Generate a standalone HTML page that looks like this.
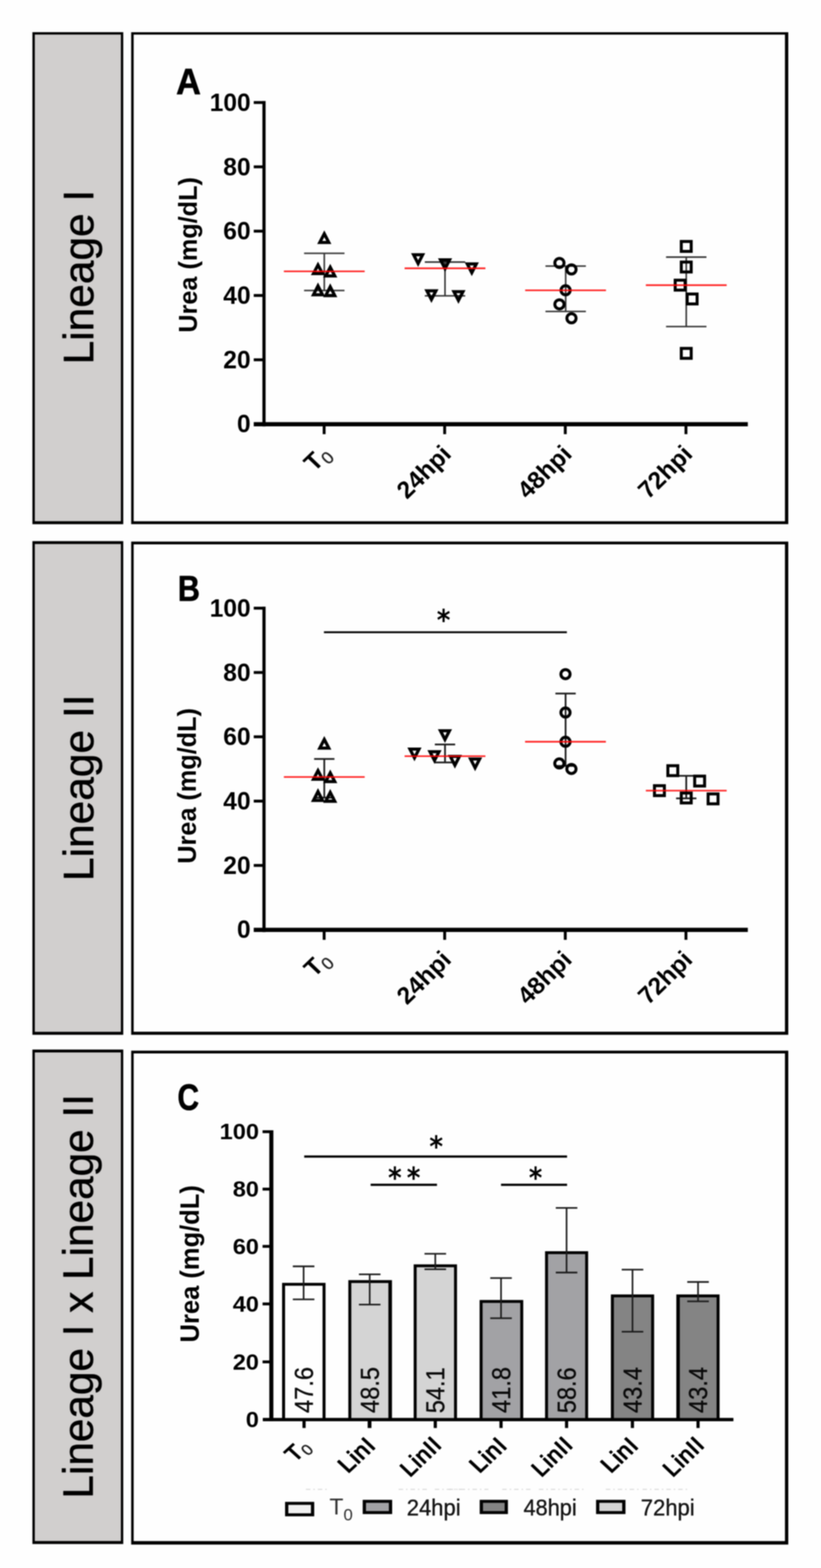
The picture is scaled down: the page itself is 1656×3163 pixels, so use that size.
<!DOCTYPE html>
<html lang="en">
<head>
<meta charset="utf-8">
<title>Urea (mg/dL) - Lineage I, Lineage II, Lineage I x Lineage II</title>
<style>
html,body{margin:0;padding:0;background:#fefefe;}
body{width:1656px;height:3163px;overflow:hidden;}
svg{display:block;}
</style>
</head>
<body>
<svg width="1656" height="3163" viewBox="0 0 1656 3163" role="img" aria-label="Urea levels in Lineage I, Lineage II and Lineage I x Lineage II">
<rect x="0" y="0" width="1656" height="3163" fill="#fefefe"/>
<defs><filter id="soft" x="0" y="0" width="100%" height="100%" filterUnits="objectBoundingBox" color-interpolation-filters="sRGB"><feGaussianBlur stdDeviation="0.85"/></filter></defs>
<g filter="url(#soft)">
<rect x="0" y="0" width="1656" height="3163" fill="#fefefe"/>
<rect x="65.4" y="64.9" width="183.2" height="992.5" fill="#000"/>
<rect x="70.2" y="69.7" width="173.6" height="981.7" fill="#d1cfce"/>
<rect x="264.6" y="65" width="1325.4" height="992.3" fill="#000"/>
<rect x="269.6" y="69.8" width="1313.7" height="981.7" fill="#fefefe"/>
<rect x="65.4" y="1091.6" width="183.2" height="995.8" fill="#000"/>
<rect x="70.2" y="1097.4" width="173.6" height="984" fill="#d1cfce"/>
<rect x="264.6" y="1092.5" width="1325.4" height="994.9" fill="#000"/>
<rect x="269.6" y="1098.1" width="1313.7" height="983.1" fill="#fefefe"/>
<rect x="65.4" y="2117.2" width="183.2" height="997.4" fill="#000"/>
<rect x="70.2" y="2123" width="173.6" height="985.6" fill="#d1cfce"/>
<rect x="264.6" y="2119.4" width="1325.4" height="996.3" fill="#000"/>
<rect x="269.6" y="2125" width="1313.7" height="983.7" fill="#fefefe"/>
<g transform="translate(188.12,735.04) scale(0.9194,0.9204) rotate(-90)"><text x="0" y="0" font-family='"Liberation Sans", Arial, Helvetica, sans-serif' font-size="93" font-weight="normal" fill="#000" stroke="#000" stroke-width="1.0" stroke-linejoin="round">Lineage I</text></g>
<g transform="translate(188.12,1777.25) scale(0.9194,0.9214) rotate(-90)"><text x="0" y="0" font-family='"Liberation Sans", Arial, Helvetica, sans-serif' font-size="93" font-weight="normal" fill="#000" stroke="#000" stroke-width="1.0" stroke-linejoin="round">Lineage II</text></g>
<g transform="translate(187.47,3023.02) scale(0.9217,0.9175) rotate(-90)"><text x="0" y="0" font-family='"Liberation Sans", Arial, Helvetica, sans-serif' font-size="93" font-weight="normal" fill="#000" stroke="#000" stroke-width="1.0" stroke-linejoin="round">Lineage I x Lineage II</text></g>
<g transform="translate(355.15,190.33) scale(0.9355,1.0038)"><text x="0" y="0" font-family='"Liberation Sans", Arial, Helvetica, sans-serif' font-size="74" font-weight="bold" fill="#000" stroke="#000" stroke-width="1.2" stroke-linejoin="round">A</text></g>
<g transform="translate(358.79,1211.74) scale(0.8331,0.9846)"><text x="0" y="0" font-family='"Liberation Sans", Arial, Helvetica, sans-serif' font-size="74" font-weight="bold" fill="#000" stroke="#000" stroke-width="1.2" stroke-linejoin="round">B</text></g>
<g transform="translate(357.9,2239.25) scale(0.8134,1.0099)"><text x="0" y="0" font-family='"Liberation Sans", Arial, Helvetica, sans-serif' font-size="74" font-weight="bold" fill="#000" stroke="#000" stroke-width="1.2" stroke-linejoin="round">C</text></g>
<line x1="532.5" y1="203.8" x2="532.5" y2="860.2" stroke="#000" stroke-width="6.4" stroke-linecap="butt"/>
<line x1="511.8" y1="855.8" x2="1508.4" y2="855.8" stroke="#000" stroke-width="8.4" stroke-linecap="butt"/>
<line x1="511.8" y1="725.76" x2="530" y2="725.76" stroke="#000" stroke-width="5.8" stroke-linecap="butt"/>
<line x1="511.8" y1="596.02" x2="530" y2="596.02" stroke="#000" stroke-width="5.8" stroke-linecap="butt"/>
<line x1="511.8" y1="466.28" x2="530" y2="466.28" stroke="#000" stroke-width="5.8" stroke-linecap="butt"/>
<line x1="511.8" y1="336.54" x2="530" y2="336.54" stroke="#000" stroke-width="5.8" stroke-linecap="butt"/>
<line x1="511.8" y1="206.8" x2="530" y2="206.8" stroke="#000" stroke-width="5.8" stroke-linecap="butt"/>
<line x1="653.8" y1="859" x2="653.8" y2="875.8" stroke="#000" stroke-width="5.8" stroke-linecap="butt"/>
<line x1="896.9" y1="859" x2="896.9" y2="875.8" stroke="#000" stroke-width="5.8" stroke-linecap="butt"/>
<line x1="1140.2" y1="859" x2="1140.2" y2="875.8" stroke="#000" stroke-width="5.8" stroke-linecap="butt"/>
<line x1="1383.6" y1="859" x2="1383.6" y2="875.8" stroke="#000" stroke-width="5.8" stroke-linecap="butt"/>
<g transform="translate(478.07,872.37) scale(0.9906,0.9906)"><text x="0" y="0" font-family='"Liberation Sans", Arial, Helvetica, sans-serif' font-size="50" font-weight="bold" fill="#000">0</text></g>
<g transform="translate(450.34,742.93) scale(0.9906,0.9906)"><text x="0" y="0" font-family='"Liberation Sans", Arial, Helvetica, sans-serif' font-size="50" font-weight="bold" fill="#000">20</text></g>
<g transform="translate(450.34,613.19) scale(0.9906,0.9906)"><text x="0" y="0" font-family='"Liberation Sans", Arial, Helvetica, sans-serif' font-size="50" font-weight="bold" fill="#000">40</text></g>
<g transform="translate(450.34,483.45) scale(0.9906,0.9906)"><text x="0" y="0" font-family='"Liberation Sans", Arial, Helvetica, sans-serif' font-size="50" font-weight="bold" fill="#000">60</text></g>
<g transform="translate(450.34,353.71) scale(0.9906,0.9906)"><text x="0" y="0" font-family='"Liberation Sans", Arial, Helvetica, sans-serif' font-size="50" font-weight="bold" fill="#000">80</text></g>
<g transform="translate(422.93,223.97) scale(0.9906,0.9906)"><text x="0" y="0" font-family='"Liberation Sans", Arial, Helvetica, sans-serif' font-size="50" font-weight="bold" fill="#000">100</text></g>
<g transform="translate(397.06,670.99) scale(1.0070,0.9974) rotate(-90)"><text x="0" y="0" font-family='"Liberation Sans", Arial, Helvetica, sans-serif' font-size="51" font-weight="bold" fill="#000">Urea (mg/dL)</text></g>
<g transform="translate(820.76,1008.55) scale(1.0395,1.0134) rotate(-45)"><text x="0" y="0" font-family='"Liberation Sans", Arial, Helvetica, sans-serif' font-size="48" font-weight="bold" fill="#000">24hpi</text></g>
<g transform="translate(1064.06,1008.55) scale(1.0395,1.0134) rotate(-45)"><text x="0" y="0" font-family='"Liberation Sans", Arial, Helvetica, sans-serif' font-size="48" font-weight="bold" fill="#000">48hpi</text></g>
<g transform="translate(1307.46,1008.55) scale(1.0395,1.0134) rotate(-45)"><text x="0" y="0" font-family='"Liberation Sans", Arial, Helvetica, sans-serif' font-size="48" font-weight="bold" fill="#000">72hpi</text></g>
<g transform="translate(633.73,953.03) scale(1.0492,1.0037) rotate(-45)"><text x="0" y="0" font-family='"Liberation Sans", Arial, Helvetica, sans-serif' fill="#000"><tspan font-size="48" font-weight="bold">T</tspan><tspan font-size="34" dy="9" dx="0" fill="#222" stroke="#222" stroke-width="0.6">0</tspan></text></g>
<line x1="654.1" y1="511" x2="654.1" y2="586" stroke="#333" stroke-width="3.1" stroke-linecap="butt"/>
<line x1="613.35" y1="511" x2="694.85" y2="511" stroke="#333" stroke-width="3.1" stroke-linecap="butt"/>
<line x1="613.35" y1="586" x2="694.85" y2="586" stroke="#333" stroke-width="3.1" stroke-linecap="butt"/>
<line x1="897.6" y1="528.6" x2="897.6" y2="596.8" stroke="#333" stroke-width="3.1" stroke-linecap="butt"/>
<line x1="856.85" y1="528.6" x2="938.35" y2="528.6" stroke="#333" stroke-width="3.1" stroke-linecap="butt"/>
<line x1="856.85" y1="596.8" x2="938.35" y2="596.8" stroke="#333" stroke-width="3.1" stroke-linecap="butt"/>
<line x1="1141" y1="536.8" x2="1141" y2="628.3" stroke="#333" stroke-width="3.1" stroke-linecap="butt"/>
<line x1="1100.25" y1="536.8" x2="1181.75" y2="536.8" stroke="#333" stroke-width="3.1" stroke-linecap="butt"/>
<line x1="1100.25" y1="628.3" x2="1181.75" y2="628.3" stroke="#333" stroke-width="3.1" stroke-linecap="butt"/>
<line x1="1384.2" y1="518.6" x2="1384.2" y2="658.7" stroke="#333" stroke-width="3.1" stroke-linecap="butt"/>
<line x1="1343.45" y1="518.6" x2="1424.95" y2="518.6" stroke="#333" stroke-width="3.1" stroke-linecap="butt"/>
<line x1="1343.45" y1="658.7" x2="1424.95" y2="658.7" stroke="#333" stroke-width="3.1" stroke-linecap="butt"/>
<polygon points="654.1,471.55 663.22,489.15 644.98,489.15" fill="none" stroke="#000" stroke-width="6.3" stroke-linejoin="miter" stroke-miterlimit="10"/>
<polygon points="641.4,534.57 650.49,551.85 632.31,551.85" fill="none" stroke="#000" stroke-width="6.3" stroke-linejoin="miter" stroke-miterlimit="10"/>
<polygon points="666.1,539.05 675.22,556.65 656.98,556.65" fill="none" stroke="#000" stroke-width="6.3" stroke-linejoin="miter" stroke-miterlimit="10"/>
<polygon points="641.4,576.73 650.55,594.65 632.25,594.65" fill="none" stroke="#000" stroke-width="6.3" stroke-linejoin="miter" stroke-miterlimit="10"/>
<polygon points="666.1,578.33 675.25,596.25 656.95,596.25" fill="none" stroke="#000" stroke-width="6.3" stroke-linejoin="miter" stroke-miterlimit="10"/>
<polygon points="843.4,531.61 852.54,513.85 834.26,513.85" fill="none" stroke="#000" stroke-width="6.3" stroke-linejoin="miter" stroke-miterlimit="10"/>
<polygon points="897.7,542.01 906.84,524.25 888.56,524.25" fill="none" stroke="#000" stroke-width="6.3" stroke-linejoin="miter" stroke-miterlimit="10"/>
<polygon points="951.6,550.21 960.74,532.45 942.46,532.45" fill="none" stroke="#000" stroke-width="6.3" stroke-linejoin="miter" stroke-miterlimit="10"/>
<polygon points="870.2,604.31 879.34,586.55 861.06,586.55" fill="none" stroke="#000" stroke-width="6.3" stroke-linejoin="miter" stroke-miterlimit="10"/>
<polygon points="924.7,606.11 933.84,588.35 915.56,588.35" fill="none" stroke="#000" stroke-width="6.3" stroke-linejoin="miter" stroke-miterlimit="10"/>
<circle cx="1128.4" cy="530.4" r="9.25" fill="none" stroke="#000" stroke-width="6"/>
<circle cx="1152.7" cy="543.5" r="9.25" fill="none" stroke="#000" stroke-width="6"/>
<circle cx="1140.8" cy="585.6" r="9.25" fill="none" stroke="#000" stroke-width="6"/>
<circle cx="1128.4" cy="613.9" r="9.25" fill="none" stroke="#000" stroke-width="6"/>
<circle cx="1152.7" cy="642" r="9.25" fill="none" stroke="#000" stroke-width="6"/>
<rect x="1374.2" y="487.1" width="20" height="20" fill="none" stroke="#000" stroke-width="6"/>
<rect x="1374.2" y="528.6" width="20" height="20" fill="none" stroke="#000" stroke-width="6"/>
<rect x="1361.9" y="565.2" width="20" height="20" fill="none" stroke="#000" stroke-width="6"/>
<rect x="1386.1" y="593.1" width="20" height="20" fill="none" stroke="#000" stroke-width="6"/>
<rect x="1374.2" y="702.8" width="20" height="20" fill="none" stroke="#000" stroke-width="6"/>
<line x1="572.6" y1="547.4" x2="735.6" y2="547.4" stroke="#ff0000" stroke-opacity="0.85" stroke-width="3.4"/>
<line x1="816.1" y1="541.2" x2="979.1" y2="541.2" stroke="#ff0000" stroke-opacity="0.85" stroke-width="3.4"/>
<line x1="1059.3" y1="585.6" x2="1222.3" y2="585.6" stroke="#ff0000" stroke-opacity="0.85" stroke-width="3.4"/>
<line x1="1302.7" y1="575.2" x2="1465.7" y2="575.2" stroke="#ff0000" stroke-opacity="0.85" stroke-width="3.4"/>
<line x1="532.5" y1="1223.8" x2="532.5" y2="1880.2" stroke="#000" stroke-width="6.4" stroke-linecap="butt"/>
<line x1="511.8" y1="1875.8" x2="1508.4" y2="1875.8" stroke="#000" stroke-width="8.4" stroke-linecap="butt"/>
<line x1="511.8" y1="1745.76" x2="530" y2="1745.76" stroke="#000" stroke-width="5.8" stroke-linecap="butt"/>
<line x1="511.8" y1="1616.02" x2="530" y2="1616.02" stroke="#000" stroke-width="5.8" stroke-linecap="butt"/>
<line x1="511.8" y1="1486.28" x2="530" y2="1486.28" stroke="#000" stroke-width="5.8" stroke-linecap="butt"/>
<line x1="511.8" y1="1356.54" x2="530" y2="1356.54" stroke="#000" stroke-width="5.8" stroke-linecap="butt"/>
<line x1="511.8" y1="1226.8" x2="530" y2="1226.8" stroke="#000" stroke-width="5.8" stroke-linecap="butt"/>
<line x1="653.8" y1="1879" x2="653.8" y2="1895.8" stroke="#000" stroke-width="5.8" stroke-linecap="butt"/>
<line x1="896.9" y1="1879" x2="896.9" y2="1895.8" stroke="#000" stroke-width="5.8" stroke-linecap="butt"/>
<line x1="1140.2" y1="1879" x2="1140.2" y2="1895.8" stroke="#000" stroke-width="5.8" stroke-linecap="butt"/>
<line x1="1383.6" y1="1879" x2="1383.6" y2="1895.8" stroke="#000" stroke-width="5.8" stroke-linecap="butt"/>
<g transform="translate(478.07,1892.37) scale(0.9906,0.9906)"><text x="0" y="0" font-family='"Liberation Sans", Arial, Helvetica, sans-serif' font-size="50" font-weight="bold" fill="#000">0</text></g>
<g transform="translate(450.34,1762.93) scale(0.9906,0.9906)"><text x="0" y="0" font-family='"Liberation Sans", Arial, Helvetica, sans-serif' font-size="50" font-weight="bold" fill="#000">20</text></g>
<g transform="translate(450.34,1633.19) scale(0.9906,0.9906)"><text x="0" y="0" font-family='"Liberation Sans", Arial, Helvetica, sans-serif' font-size="50" font-weight="bold" fill="#000">40</text></g>
<g transform="translate(450.34,1503.45) scale(0.9906,0.9906)"><text x="0" y="0" font-family='"Liberation Sans", Arial, Helvetica, sans-serif' font-size="50" font-weight="bold" fill="#000">60</text></g>
<g transform="translate(450.34,1373.71) scale(0.9906,0.9906)"><text x="0" y="0" font-family='"Liberation Sans", Arial, Helvetica, sans-serif' font-size="50" font-weight="bold" fill="#000">80</text></g>
<g transform="translate(422.93,1243.97) scale(0.9906,0.9906)"><text x="0" y="0" font-family='"Liberation Sans", Arial, Helvetica, sans-serif' font-size="50" font-weight="bold" fill="#000">100</text></g>
<g transform="translate(394.83,1742.19) scale(1.0280,0.9981) rotate(-90)"><text x="0" y="0" font-family='"Liberation Sans", Arial, Helvetica, sans-serif' font-size="51" font-weight="bold" fill="#000">Urea (mg/dL)</text></g>
<g transform="translate(820.76,2028.55) scale(1.0395,1.0134) rotate(-45)"><text x="0" y="0" font-family='"Liberation Sans", Arial, Helvetica, sans-serif' font-size="48" font-weight="bold" fill="#000">24hpi</text></g>
<g transform="translate(1064.06,2028.55) scale(1.0395,1.0134) rotate(-45)"><text x="0" y="0" font-family='"Liberation Sans", Arial, Helvetica, sans-serif' font-size="48" font-weight="bold" fill="#000">48hpi</text></g>
<g transform="translate(1307.46,2028.55) scale(1.0395,1.0134) rotate(-45)"><text x="0" y="0" font-family='"Liberation Sans", Arial, Helvetica, sans-serif' font-size="48" font-weight="bold" fill="#000">72hpi</text></g>
<g transform="translate(633.73,1973.03) scale(1.0492,1.0037) rotate(-45)"><text x="0" y="0" font-family='"Liberation Sans", Arial, Helvetica, sans-serif' fill="#000"><tspan font-size="48" font-weight="bold">T</tspan><tspan font-size="34" dy="9" dx="0" fill="#222" stroke="#222" stroke-width="0.6">0</tspan></text></g>
<line x1="654.1" y1="1531" x2="654.1" y2="1609" stroke="#1c1c1c" stroke-width="3.5" stroke-linecap="butt"/>
<line x1="633.6" y1="1531" x2="674.6" y2="1531" stroke="#1c1c1c" stroke-width="3.5" stroke-linecap="butt"/>
<line x1="633.6" y1="1609" x2="674.6" y2="1609" stroke="#1c1c1c" stroke-width="3.5" stroke-linecap="butt"/>
<line x1="897.6" y1="1501.7" x2="897.6" y2="1538" stroke="#1c1c1c" stroke-width="3.5" stroke-linecap="butt"/>
<line x1="877.1" y1="1501.7" x2="918.1" y2="1501.7" stroke="#1c1c1c" stroke-width="3.5" stroke-linecap="butt"/>
<line x1="877.1" y1="1538" x2="918.1" y2="1538" stroke="#1c1c1c" stroke-width="3.5" stroke-linecap="butt"/>
<line x1="1140.8" y1="1399.1" x2="1140.8" y2="1545" stroke="#1c1c1c" stroke-width="3.5" stroke-linecap="butt"/>
<line x1="1120.3" y1="1399.1" x2="1161.3" y2="1399.1" stroke="#1c1c1c" stroke-width="3.5" stroke-linecap="butt"/>
<line x1="1120.3" y1="1545" x2="1161.3" y2="1545" stroke="#1c1c1c" stroke-width="3.5" stroke-linecap="butt"/>
<line x1="1384.2" y1="1564.9" x2="1384.2" y2="1610.5" stroke="#1c1c1c" stroke-width="3.5" stroke-linecap="butt"/>
<line x1="1363.7" y1="1564.9" x2="1404.7" y2="1564.9" stroke="#1c1c1c" stroke-width="3.5" stroke-linecap="butt"/>
<line x1="1363.7" y1="1610.5" x2="1404.7" y2="1610.5" stroke="#1c1c1c" stroke-width="3.5" stroke-linecap="butt"/>
<polygon points="654.1,1491.55 663.22,1509.15 644.98,1509.15" fill="none" stroke="#000" stroke-width="6.3" stroke-linejoin="miter" stroke-miterlimit="10"/>
<polygon points="641.4,1554.57 650.49,1571.85 632.31,1571.85" fill="none" stroke="#000" stroke-width="6.3" stroke-linejoin="miter" stroke-miterlimit="10"/>
<polygon points="666.1,1559.05 675.22,1576.65 656.98,1576.65" fill="none" stroke="#000" stroke-width="6.3" stroke-linejoin="miter" stroke-miterlimit="10"/>
<polygon points="641.4,1596.73 650.55,1614.65 632.25,1614.65" fill="none" stroke="#000" stroke-width="6.3" stroke-linejoin="miter" stroke-miterlimit="10"/>
<polygon points="666.1,1598.33 675.25,1616.25 656.95,1616.25" fill="none" stroke="#000" stroke-width="6.3" stroke-linejoin="miter" stroke-miterlimit="10"/>
<polygon points="897.5,1491.81 906.64,1474.05 888.36,1474.05" fill="none" stroke="#000" stroke-width="6.3" stroke-linejoin="miter" stroke-miterlimit="10"/>
<polygon points="836,1528.91 845.14,1511.15 826.86,1511.15" fill="none" stroke="#000" stroke-width="6.3" stroke-linejoin="miter" stroke-miterlimit="10"/>
<polygon points="876.4,1534.11 885.54,1516.35 867.26,1516.35" fill="none" stroke="#000" stroke-width="6.3" stroke-linejoin="miter" stroke-miterlimit="10"/>
<polygon points="917.5,1543.71 926.64,1525.95 908.36,1525.95" fill="none" stroke="#000" stroke-width="6.3" stroke-linejoin="miter" stroke-miterlimit="10"/>
<polygon points="958.3,1548.91 967.44,1531.15 949.16,1531.15" fill="none" stroke="#000" stroke-width="6.3" stroke-linejoin="miter" stroke-miterlimit="10"/>
<circle cx="1140.6" cy="1359.9" r="9.25" fill="none" stroke="#000" stroke-width="6"/>
<circle cx="1140.6" cy="1437.3" r="9.25" fill="none" stroke="#000" stroke-width="6"/>
<circle cx="1140.6" cy="1496.3" r="9.25" fill="none" stroke="#000" stroke-width="6"/>
<circle cx="1128.2" cy="1540.1" r="9.25" fill="none" stroke="#000" stroke-width="6"/>
<circle cx="1152.6" cy="1551.2" r="9.25" fill="none" stroke="#000" stroke-width="6"/>
<rect x="1347.1" y="1544.6" width="20" height="20" fill="none" stroke="#000" stroke-width="6"/>
<rect x="1401.2" y="1565.6" width="20" height="20" fill="none" stroke="#000" stroke-width="6"/>
<rect x="1320.1" y="1584.9" width="20" height="20" fill="none" stroke="#000" stroke-width="6"/>
<rect x="1374.2" y="1599.7" width="20" height="20" fill="none" stroke="#000" stroke-width="6"/>
<rect x="1428.3" y="1601.5" width="20" height="20" fill="none" stroke="#000" stroke-width="6"/>
<line x1="572.6" y1="1567.4" x2="735.6" y2="1567.4" stroke="#ff0000" stroke-opacity="0.85" stroke-width="3.4"/>
<line x1="816.1" y1="1525.4" x2="979.1" y2="1525.4" stroke="#ff0000" stroke-opacity="0.85" stroke-width="3.4"/>
<line x1="1059.1" y1="1496.3" x2="1222.1" y2="1496.3" stroke="#ff0000" stroke-opacity="0.85" stroke-width="3.4"/>
<line x1="1302.7" y1="1594.9" x2="1465.7" y2="1594.9" stroke="#ff0000" stroke-opacity="0.85" stroke-width="3.4"/>
<line x1="653.4" y1="1275.4" x2="1143.4" y2="1275.4" stroke="#000" stroke-width="3.6" stroke-linecap="butt"/>
<g transform="translate(880.95,1270.69) scale(1.0500,1.1565)"><text x="0" y="0" font-family='"DejaVu Sans", "Liberation Sans", sans-serif' font-size="50" font-weight="bold" fill="#000">*</text></g>
<line x1="547.3" y1="2280" x2="547.3" y2="2866.6" stroke="#000" stroke-width="8.2" stroke-linecap="butt"/>
<line x1="530.2" y1="2863.6" x2="1479.2" y2="2863.6" stroke="#000" stroke-width="6.2" stroke-linecap="butt"/>
<line x1="529.6" y1="2747.2" x2="545" y2="2747.2" stroke="#000" stroke-width="5.8" stroke-linecap="butt"/>
<line x1="529.6" y1="2630.3" x2="545" y2="2630.3" stroke="#000" stroke-width="5.8" stroke-linecap="butt"/>
<line x1="529.6" y1="2514.2" x2="545" y2="2514.2" stroke="#000" stroke-width="5.8" stroke-linecap="butt"/>
<line x1="529.6" y1="2398.7" x2="545" y2="2398.7" stroke="#000" stroke-width="5.8" stroke-linecap="butt"/>
<line x1="529.6" y1="2282.9" x2="545" y2="2282.9" stroke="#000" stroke-width="5.8" stroke-linecap="butt"/>
<line x1="613.3" y1="2865" x2="613.3" y2="2880.6" stroke="#000" stroke-width="6.4" stroke-linecap="butt"/>
<line x1="745.4" y1="2865" x2="745.4" y2="2880.6" stroke="#000" stroke-width="7.6" stroke-linecap="butt"/>
<line x1="878" y1="2865" x2="878" y2="2880.6" stroke="#000" stroke-width="6.4" stroke-linecap="butt"/>
<line x1="1010.6" y1="2865" x2="1010.6" y2="2880.6" stroke="#000" stroke-width="6.4" stroke-linecap="butt"/>
<line x1="1142.8" y1="2865" x2="1142.8" y2="2880.6" stroke="#000" stroke-width="6.4" stroke-linecap="butt"/>
<line x1="1275.6" y1="2865" x2="1275.6" y2="2880.6" stroke="#000" stroke-width="6.4" stroke-linecap="butt"/>
<line x1="1408" y1="2865" x2="1408" y2="2880.6" stroke="#000" stroke-width="6.4" stroke-linecap="butt"/>
<g transform="translate(495.75,2878.78) scale(1.0132,0.9636)"><text x="0" y="0" font-family='"Liberation Sans", Arial, Helvetica, sans-serif' font-size="47" font-weight="bold" fill="#000">0</text></g>
<g transform="translate(469.4,2762.78) scale(1.0132,0.9636)"><text x="0" y="0" font-family='"Liberation Sans", Arial, Helvetica, sans-serif' font-size="47" font-weight="bold" fill="#000">20</text></g>
<g transform="translate(469.4,2645.88) scale(1.0132,0.9636)"><text x="0" y="0" font-family='"Liberation Sans", Arial, Helvetica, sans-serif' font-size="47" font-weight="bold" fill="#000">40</text></g>
<g transform="translate(469.4,2529.78) scale(1.0132,0.9636)"><text x="0" y="0" font-family='"Liberation Sans", Arial, Helvetica, sans-serif' font-size="47" font-weight="bold" fill="#000">60</text></g>
<g transform="translate(469.4,2414.28) scale(1.0132,0.9636)"><text x="0" y="0" font-family='"Liberation Sans", Arial, Helvetica, sans-serif' font-size="47" font-weight="bold" fill="#000">80</text></g>
<g transform="translate(443.06,2298.48) scale(1.0132,0.9636)"><text x="0" y="0" font-family='"Liberation Sans", Arial, Helvetica, sans-serif' font-size="47" font-weight="bold" fill="#000">100</text></g>
<g transform="translate(401.1,2708.03) scale(1.0406,1.0097) rotate(-90)"><text x="0" y="0" font-family='"Liberation Sans", Arial, Helvetica, sans-serif' font-size="51" font-weight="bold" fill="#000">Urea (mg/dL)</text></g>
<rect x="569" y="2587.8" width="87.6" height="275.8" fill="#000"/>
<rect x="575" y="2593.6" width="75.6" height="267.2" fill="#fefefe"/>
<line x1="612.4" y1="2554.5" x2="612.4" y2="2621.2" stroke="#1c1c1c" stroke-width="3.3" stroke-linecap="butt"/>
<line x1="590.65" y1="2554.5" x2="634.15" y2="2554.5" stroke="#1c1c1c" stroke-width="3.3" stroke-linecap="butt"/>
<line x1="590.65" y1="2621.2" x2="634.15" y2="2621.2" stroke="#1c1c1c" stroke-width="3.3" stroke-linecap="butt"/>
<g transform="translate(630.6,2850.15) scale(1.0500,0.9509) rotate(-90)"><text x="0" y="0" font-family='"Liberation Sans", Arial, Helvetica, sans-serif' font-size="50" font-weight="normal" fill="#0a0a0a" stroke="#0a0a0a" stroke-width="0.6">47.6</text></g>
<rect x="702.6" y="2582.3" width="88" height="281.3" fill="#000"/>
<rect x="708.6" y="2588.1" width="74.8" height="272.7" fill="#d4d4d4"/>
<line x1="745.7" y1="2570.7" x2="745.7" y2="2631.7" stroke="#1c1c1c" stroke-width="3.3" stroke-linecap="butt"/>
<line x1="723.95" y1="2570.7" x2="767.45" y2="2570.7" stroke="#1c1c1c" stroke-width="3.3" stroke-linecap="butt"/>
<line x1="723.95" y1="2631.7" x2="767.45" y2="2631.7" stroke="#1c1c1c" stroke-width="3.3" stroke-linecap="butt"/>
<g transform="translate(764.4,2850.15) scale(1.0500,0.9509) rotate(-90)"><text x="0" y="0" font-family='"Liberation Sans", Arial, Helvetica, sans-serif' font-size="50" font-weight="normal" fill="#0a0a0a" stroke="#0a0a0a" stroke-width="0.6">48.5</text></g>
<rect x="834.4" y="2550.5" width="87.4" height="313.1" fill="#000"/>
<rect x="840.4" y="2556.3" width="75.4" height="304.5" fill="#d4d4d4"/>
<line x1="878" y1="2529.2" x2="878" y2="2560.3" stroke="#1c1c1c" stroke-width="3.3" stroke-linecap="butt"/>
<line x1="856.25" y1="2529.2" x2="899.75" y2="2529.2" stroke="#1c1c1c" stroke-width="3.3" stroke-linecap="butt"/>
<line x1="856.25" y1="2560.3" x2="899.75" y2="2560.3" stroke="#1c1c1c" stroke-width="3.3" stroke-linecap="butt"/>
<g transform="translate(895.55,2850.78) scale(1.0500,0.9509) rotate(-90)"><text x="0" y="0" font-family='"Liberation Sans", Arial, Helvetica, sans-serif' font-size="50" font-weight="normal" fill="#0a0a0a" stroke="#0a0a0a" stroke-width="0.6">54.1</text></g>
<rect x="967.4" y="2622.4" width="88" height="241.2" fill="#000"/>
<rect x="973.4" y="2628.2" width="76" height="232.6" fill="#a2a2a5"/>
<line x1="1010.6" y1="2578.1" x2="1010.6" y2="2659.2" stroke="#1c1c1c" stroke-width="3.3" stroke-linecap="butt"/>
<line x1="988.85" y1="2578.1" x2="1032.35" y2="2578.1" stroke="#1c1c1c" stroke-width="3.3" stroke-linecap="butt"/>
<line x1="988.85" y1="2659.2" x2="1032.35" y2="2659.2" stroke="#1c1c1c" stroke-width="3.3" stroke-linecap="butt"/>
<g transform="translate(1029.2,2850.15) scale(1.0500,0.9509) rotate(-90)"><text x="0" y="0" font-family='"Liberation Sans", Arial, Helvetica, sans-serif' font-size="50" font-weight="normal" fill="#0a0a0a" stroke="#0a0a0a" stroke-width="0.6">41.8</text></g>
<rect x="1099.4" y="2524" width="86.9" height="339.6" fill="#000"/>
<rect x="1105.4" y="2529.8" width="74.9" height="331" fill="#a2a2a5"/>
<line x1="1142.8" y1="2436.7" x2="1142.8" y2="2567" stroke="#1c1c1c" stroke-width="3.3" stroke-linecap="butt"/>
<line x1="1121.05" y1="2436.7" x2="1164.55" y2="2436.7" stroke="#1c1c1c" stroke-width="3.3" stroke-linecap="butt"/>
<line x1="1121.05" y1="2567" x2="1164.55" y2="2567" stroke="#1c1c1c" stroke-width="3.3" stroke-linecap="butt"/>
<g transform="translate(1160.65,2850.78) scale(1.0500,0.9509) rotate(-90)"><text x="0" y="0" font-family='"Liberation Sans", Arial, Helvetica, sans-serif' font-size="50" font-weight="normal" fill="#0a0a0a" stroke="#0a0a0a" stroke-width="0.6">58.6</text></g>
<rect x="1232.2" y="2611.2" width="87.2" height="252.4" fill="#000"/>
<rect x="1238.2" y="2617" width="75.2" height="243.8" fill="#848484"/>
<line x1="1275.8" y1="2561.2" x2="1275.8" y2="2686.4" stroke="#1c1c1c" stroke-width="3.3" stroke-linecap="butt"/>
<line x1="1254.05" y1="2561.2" x2="1297.55" y2="2561.2" stroke="#1c1c1c" stroke-width="3.3" stroke-linecap="butt"/>
<line x1="1254.05" y1="2686.4" x2="1297.55" y2="2686.4" stroke="#1c1c1c" stroke-width="3.3" stroke-linecap="butt"/>
<g transform="translate(1293.6,2850.15) scale(1.0500,0.9509) rotate(-90)"><text x="0" y="0" font-family='"Liberation Sans", Arial, Helvetica, sans-serif' font-size="50" font-weight="normal" fill="#0a0a0a" stroke="#0a0a0a" stroke-width="0.6">43.4</text></g>
<rect x="1364.2" y="2611.2" width="87.2" height="252.4" fill="#000"/>
<rect x="1371.2" y="2617" width="74.2" height="243.8" fill="#848484"/>
<line x1="1408" y1="2586" x2="1408" y2="2625.2" stroke="#1c1c1c" stroke-width="3.3" stroke-linecap="butt"/>
<line x1="1386.25" y1="2586" x2="1429.75" y2="2586" stroke="#1c1c1c" stroke-width="3.3" stroke-linecap="butt"/>
<line x1="1386.25" y1="2625.2" x2="1429.75" y2="2625.2" stroke="#1c1c1c" stroke-width="3.3" stroke-linecap="butt"/>
<g transform="translate(1425.6,2850.15) scale(1.0500,0.9509) rotate(-90)"><text x="0" y="0" font-family='"Liberation Sans", Arial, Helvetica, sans-serif' font-size="50" font-weight="normal" fill="#0a0a0a" stroke="#0a0a0a" stroke-width="0.6">43.4</text></g>
<line x1="530.2" y1="2863.6" x2="1479.2" y2="2863.6" stroke="#000" stroke-width="6.2" stroke-linecap="butt"/>
<line x1="613.6" y1="2333" x2="1143.8" y2="2333" stroke="#000" stroke-width="4.6" stroke-linecap="butt"/>
<line x1="747.6" y1="2390" x2="881.4" y2="2390" stroke="#000" stroke-width="4.6" stroke-linecap="butt"/>
<line x1="1010.6" y1="2390" x2="1143.8" y2="2390" stroke="#000" stroke-width="4.6" stroke-linecap="butt"/>
<g transform="translate(865.94,2332.93) scale(1.0583,1.1739)"><text x="0" y="0" font-family='"DejaVu Sans", "Liberation Sans", sans-serif' font-size="50" font-weight="bold" fill="#000">*</text></g>
<g transform="translate(782.85,2395.53) scale(1.0500,1.1739)"><text x="0" y="0" font-family='"DejaVu Sans", "Liberation Sans", sans-serif' font-size="50" font-weight="bold" fill="#000">*</text></g>
<g transform="translate(820.45,2395.53) scale(1.0500,1.1739)"><text x="0" y="0" font-family='"DejaVu Sans", "Liberation Sans", sans-serif' font-size="50" font-weight="bold" fill="#000">*</text></g>
<g transform="translate(1066.67,2395.53) scale(1.0333,1.1739)"><text x="0" y="0" font-family='"DejaVu Sans", "Liberation Sans", sans-serif' font-size="50" font-weight="bold" fill="#000">*</text></g>
<g transform="translate(594.14,2950.76) scale(0.9890,0.8946) rotate(-45)"><text x="0" y="0" font-family='"Liberation Sans", Arial, Helvetica, sans-serif' fill="#000"><tspan font-size="48" stroke="#000" stroke-width="2.2">T</tspan><tspan font-size="34" dy="9" dx="0" fill="#1a1a1a" stroke="#1a1a1a" stroke-width="0.8">0</tspan></text></g>
<g transform="translate(701.54,2973.16) scale(1.0034,0.9388) rotate(-45)"><text x="0" y="0" font-family='"Liberation Sans", Arial, Helvetica, sans-serif' font-size="48" font-weight="normal" fill="#000" stroke="#000" stroke-width="2.1" stroke-linejoin="round" letter-spacing="1.4">LinI</text></g>
<g transform="translate(966.74,2973.16) scale(1.0034,0.9388) rotate(-45)"><text x="0" y="0" font-family='"Liberation Sans", Arial, Helvetica, sans-serif' font-size="48" font-weight="normal" fill="#000" stroke="#000" stroke-width="2.1" stroke-linejoin="round" letter-spacing="1.4">LinI</text></g>
<g transform="translate(1231.74,2973.16) scale(1.0034,0.9388) rotate(-45)"><text x="0" y="0" font-family='"Liberation Sans", Arial, Helvetica, sans-serif' font-size="48" font-weight="normal" fill="#000" stroke="#000" stroke-width="2.1" stroke-linejoin="round" letter-spacing="1.4">LinI</text></g>
<g transform="translate(826.61,2981.16) scale(0.9696,0.9354) rotate(-45)"><text x="0" y="0" font-family='"Liberation Sans", Arial, Helvetica, sans-serif' font-size="48" font-weight="normal" fill="#000" stroke="#000" stroke-width="2.1" stroke-linejoin="round" letter-spacing="1.4">LinII</text></g>
<g transform="translate(1091.41,2981.16) scale(0.9696,0.9354) rotate(-45)"><text x="0" y="0" font-family='"Liberation Sans", Arial, Helvetica, sans-serif' font-size="48" font-weight="normal" fill="#000" stroke="#000" stroke-width="2.1" stroke-linejoin="round" letter-spacing="1.4">LinII</text></g>
<g transform="translate(1356.61,2981.16) scale(0.9696,0.9354) rotate(-45)"><text x="0" y="0" font-family='"Liberation Sans", Arial, Helvetica, sans-serif' font-size="48" font-weight="normal" fill="#000" stroke="#000" stroke-width="2.1" stroke-linejoin="round" letter-spacing="1.4">LinII</text></g>
<rect x="575" y="3029.6" width="58.8" height="29.1" fill="#000"/>
<rect x="581.6" y="3035.6" width="45.6" height="17.1" fill="#f1f1f1"/>
<rect x="731.6" y="3025.5" width="59.4" height="28.7" fill="#000"/>
<rect x="738.2" y="3031.5" width="46.2" height="16.7" fill="#a2a2a5"/>
<rect x="967.6" y="3025.5" width="56.9" height="28.7" fill="#000"/>
<rect x="974.2" y="3031.5" width="43.7" height="16.7" fill="#848484"/>
<rect x="1202.3" y="3025.5" width="59.3" height="28.7" fill="#000"/>
<rect x="1208.9" y="3031.5" width="46.1" height="16.7" fill="#d4d4d4"/>
<g transform="translate(664.46,3054.77) scale(0.9423,0.9319)"><text x="0" y="0" font-family='"Liberation Sans", Arial, Helvetica, sans-serif' fill="#303030"><tspan font-size="49">T</tspan><tspan font-size="36" dy="13" dx="0">0</tspan></text></g>
<g transform="translate(820.59,3057.36) scale(0.9043,0.9522)"><text x="0" y="0" font-family='"Liberation Sans", Arial, Helvetica, sans-serif' font-size="49" font-weight="normal" fill="#141414" stroke="#141414" stroke-width="0.7">24hpi</text></g>
<g transform="translate(1056,3057.36) scale(0.8940,0.9522)"><text x="0" y="0" font-family='"Liberation Sans", Arial, Helvetica, sans-serif' font-size="49" font-weight="normal" fill="#141414" stroke="#141414" stroke-width="0.7">48hpi</text></g>
<g transform="translate(1292.48,3057.36) scale(0.9070,0.9522)"><text x="0" y="0" font-family='"Liberation Sans", Arial, Helvetica, sans-serif' font-size="49" font-weight="normal" fill="#141414" stroke="#141414" stroke-width="0.7">72hpi</text></g>
<line x1="617" y1="3004.4" x2="662" y2="3004.4" stroke="#d2d2d2" stroke-width="1.8" stroke-dasharray="9 6 3 6"/>
<line x1="804" y1="3004.4" x2="862" y2="3004.4" stroke="#d2d2d2" stroke-width="1.8" stroke-dasharray="9 6 3 6"/>
<line x1="877" y1="3004.4" x2="930" y2="3004.4" stroke="#d2d2d2" stroke-width="1.8" stroke-dasharray="9 6 3 6"/>
<line x1="905" y1="3004.4" x2="985" y2="3004.4" stroke="#d2d2d2" stroke-width="1.8" stroke-dasharray="9 6 3 6"/>
<line x1="1013" y1="3004.4" x2="1070" y2="3004.4" stroke="#d2d2d2" stroke-width="1.8" stroke-dasharray="9 6 3 6"/>
<line x1="1087" y1="3004.4" x2="1180" y2="3004.4" stroke="#d2d2d2" stroke-width="1.8" stroke-dasharray="9 6 3 6"/>
<line x1="1222" y1="3004.4" x2="1290" y2="3004.4" stroke="#d2d2d2" stroke-width="1.8" stroke-dasharray="9 6 3 6"/>
<line x1="1296" y1="3004.4" x2="1390" y2="3004.4" stroke="#d2d2d2" stroke-width="1.8" stroke-dasharray="9 6 3 6"/>
</g>
</svg>
</body>
</html>
